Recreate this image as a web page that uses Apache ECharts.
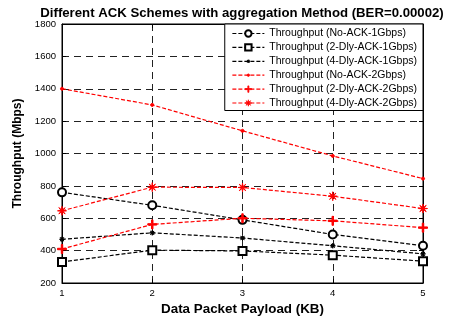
<!DOCTYPE html>
<html>
<head>
<meta charset="utf-8">
<script src="https://cdn.jsdelivr.net/npm/echarts@6/dist/echarts.min.js"></script>
<style>
  html, body { margin: 0; padding: 0; background: #fff; }
  #chart { width: 452px; height: 317px; }
</style>
</head>
<body>
<div id="chart"></div>
<script>
// payload sizes on the x axis (KB)
var payloads = [1, 2, 3, 4, 5];

// throughput in Mbps
var noAck1G   = [760, 680, 590, 500, 430];
var dly2Ack1G = [330, 403, 398, 372, 335];
var dly4Ack1G = [470, 510, 478, 430, 380];
var noAck2G   = [1400, 1300, 1140, 985, 845];
var dly2Ack2G = [410, 562, 600, 584, 542];
var dly4Ack2G = [646, 792, 790, 736, 660];

var seriesNames = [
  "Throughput (No-ACK-1Gbps)",
  "Throughput (2-Dly-ACK-1Gbps)",
  "Throughput (4-Dly-ACK-1Gbps)",
  "Throughput (No-ACK-2Gbps)",
  "Throughput (2-Dly-ACK-2Gbps)",
  "Throughput (4-Dly-ACK-2Gbps)"
];

var FONT = "Liberation Sans";
// asterisk-like star, 10 units wide
var STAR = "path://M5,0 L5.46,3.89 L8.54,1.46 L6.11,4.54 L10,5 L6.11,5.46 L8.54,8.54 L5.46,6.11 L5,10 L4.54,6.11 L1.46,8.54 L3.89,5.46 L0,5 L3.89,4.54 L1.46,1.46 L4.54,3.89 Z";
// same star padded inside a 20 unit box so the legend draws it small
var SMALL_STAR = "path://M0,0 M20,20 M10,5 L10.46,8.89 L13.54,6.46 L11.11,9.54 L15,10 L11.11,10.46 L13.54,13.54 L10.46,11.11 L10,15 L9.54,11.11 L6.46,13.54 L8.89,10.46 L5,10 L8.89,9.54 L6.46,6.46 L9.54,8.89 Z";
// tiny dot padded the same way
var DOT = "path://M0,0 M20,20 M10,6 L12.8,7.2 L14,10 L12.8,12.8 L10,14 L7.2,12.8 L6,10 L7.2,7.2 Z";
var PLUS = "path://M4.2,0 h1.6 v4.2 h4.2 v1.6 h-4.2 v4.2 h-1.6 v-4.2 h-4.2 v-1.6 h4.2 z";

function pairs(values) {
  return values.map(function(v, i) { return [payloads[i], v]; });
}

function makeSeries(name, values, color, symbol, size) {
  return {
    name: name,
    type: "line",
    data: pairs(values),
    symbol: symbol,
    symbolSize: size,
    showSymbol: true,
    lineStyle: { color: color, width: 1.2, type: [4, 2] },
    itemStyle: { color: color, borderColor: color, borderWidth: 1 },
    emphasis: { disabled: true },
    z: 5
  };
}

var chart = echarts.init(document.getElementById("chart"));

var axisLineBlack = { show: true, lineStyle: { color: "#000", width: 1 } };
var tickInside = { show: true, inside: true, length: 4, lineStyle: { color: "#000" } };

chart.setOption({
  animation: false,
  title: {
    text: "Different ACK Schemes with aggregation Method (BER=0.00002)",
    left: 237,
    textAlign: "center",
    top: 2,
    textStyle: { fontFamily: FONT, fontSize: 13.2, fontWeight: "bold", color: "#000" }
  },
  grid: {
    left: 62, right: 29, top: 24, bottom: 34,
    containLabel: false,
    outerBoundsMode: "none",
    show: true, borderColor: "#000", borderWidth: 1, backgroundColor: "transparent"
  },
  legend: {
    orient: "vertical",
    right: 29,
    top: 24,
    padding: [4, 6, 2, 7],
    itemGap: 2.9,
    itemWidth: 32,
    itemHeight: 8,
    backgroundColor: "#fff",
    borderColor: "#000",
    borderWidth: 1,
    itemStyle: { borderWidth: 0.8 },
    lineStyle: { width: 1.2 },
    textStyle: { fontFamily: FONT, fontSize: 10.5, color: "#000" },
    data: seriesNames
  },
  xAxis: [{
    type: "value",
    min: 1, max: 5, interval: 1,
    name: "Data Packet Payload (KB)",
    nameLocation: "middle",
    nameGap: 19.5,
    nameTextStyle: { fontFamily: FONT, fontSize: 13.4, fontWeight: "bold", color: "#000" },
    axisLine: axisLineBlack,
    axisTick: tickInside,
    axisLabel: { fontFamily: FONT, fontSize: 9.5, color: "#000", margin: 5 },
    splitLine: { show: true, lineStyle: { color: "#222", width: 1, type: [7, 5] } }
  }, {
    type: "value",
    position: "top",
    min: 1, max: 5, interval: 1,
    axisLine: axisLineBlack,
    axisTick: tickInside,
    axisLabel: { show: false },
    splitLine: { show: false }
  }],
  yAxis: [{
    type: "value",
    min: 200, max: 1800, interval: 200,
    name: "Throughput (Mbps)",
    nameLocation: "middle",
    nameGap: 20,
    nameTextStyle: { fontFamily: FONT, fontSize: 12, fontWeight: "bold", color: "#000" },
    axisLine: axisLineBlack,
    axisTick: tickInside,
    axisLabel: { fontFamily: FONT, fontSize: 9.5, color: "#000", margin: 6, formatter: function(v) { return String(v); } },
    splitLine: { show: true, lineStyle: { color: "#222", width: 1, type: [7, 5] } }
  }, {
    type: "value",
    position: "right",
    min: 200, max: 1800, interval: 200,
    axisLine: axisLineBlack,
    axisTick: tickInside,
    axisLabel: { show: false },
    splitLine: { show: false }
  }],
  series: [
    makeSeries(seriesNames[0], noAck1G, "#000", "emptyCircle", 8),
    makeSeries(seriesNames[1], dly2Ack1G, "#000", "emptyRect", 8),
    makeSeries(seriesNames[2], dly4Ack1G, "#000", SMALL_STAR, 10),
    makeSeries(seriesNames[3], noAck2G, "#ff0000", DOT, 8),
    makeSeries(seriesNames[4], dly2Ack2G, "#ff0000", PLUS, 9),
    makeSeries(seriesNames[5], dly4Ack2G, "#ff0000", STAR, 9)
  ]
});
</script>
</body>
</html>
